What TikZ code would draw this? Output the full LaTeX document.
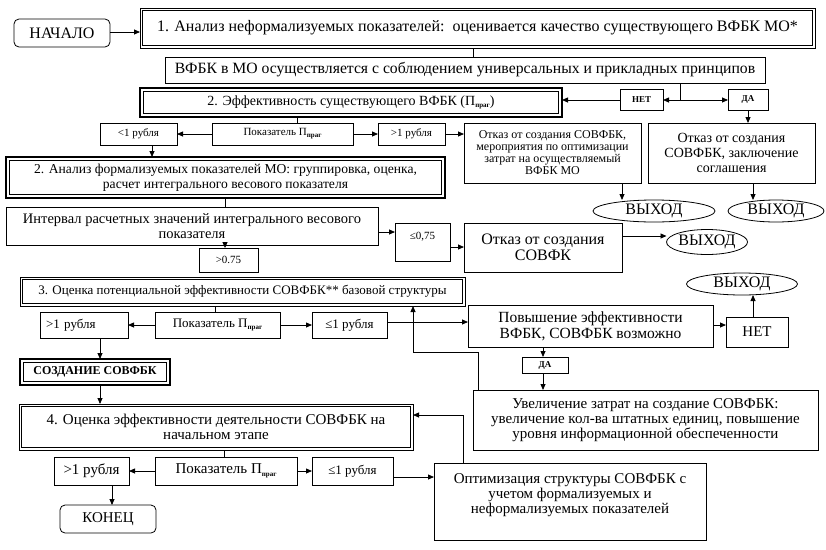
\documentclass[tikz,border=0pt]{standalone}
\usepackage{fontspec}
\setmainfont{Liberation Serif}
\usetikzlibrary{arrows.meta,shapes.geometric}
\newcommand\psub[1]{\raisebox{-0.35ex}{\fontsize{7}{7}\selectfont\bfseries #1}}
\begin{document}
\begin{tikzpicture}[x=1pt,y=-1pt,
  bx/.style={draw, line width=0.8pt, anchor=north west, align=center, inner sep=1pt, outer sep=0pt},
  rnd/.style={bx, rounded corners=5pt},
  dblthin/.style={bx, line width=0.7pt, path picture={\draw[line width=0.7pt] ([xshift=2.8pt,yshift=-2.8pt]path picture bounding box.north west) rectangle ([xshift=-2.8pt,yshift=2.8pt]path picture bounding box.south east);}},
  thk/.style={bx, line width=2.2pt, path picture={\draw[line width=0.7pt] ([xshift=3.6pt,yshift=-3.6pt]path picture bounding box.north west) rectangle ([xshift=-3.6pt,yshift=3.6pt]path picture bounding box.south east);}},
  ell/.style={draw, ellipse, line width=0.8pt, inner sep=0pt, outer sep=0pt},
  fL/.style={font=\fontsize{16}{16}\selectfont},
  fA/.style={font=\fontsize{15}{15}\selectfont},
  fB/.style={font=\fontsize{14}{15}\selectfont},
  fC/.style={font=\fontsize{13}{15}\selectfont},
  fD/.style={font=\fontsize{11}{11.5}\selectfont},
  fE/.style={font=\fontsize{9}{10}\selectfont\bfseries},
  con/.style={line width=0.8pt},
  arr/.style={con, -{Triangle[length=6pt,width=5pt]}}
]
\useasboundingbox (0,0) rectangle (826,549);
% nodes
\node[rnd, fL, minimum width=96pt, minimum height=28pt] (nach) at (14,19) {НАЧАЛО};
\node[dblthin, fL, minimum width=675pt, minimum height=40pt] (b1) at (140,8) {1. Анализ неформализуемых показателей:\ \ оценивается качество существующего ВФБК МО*};
\node[bx, font=\fontsize{15.7}{16}\selectfont, minimum width=600pt, minimum height=26pt] (b2) at (165,57) {ВФБК в МО осуществляется с соблюдением универсальных и прикладных принципов};
\node[thk, fB, minimum width=422pt, minimum height=29pt] (b3) at (140,88) {2. Эффективность существующего ВФБК (П\psub{праг})};
\node[bx, fE, minimum width=43pt, minimum height=21pt] (net1) at (620,89) {НЕТ};
\node[bx, fE, minimum width=40pt, minimum height=21pt] (da1) at (728,89) {ДА};
\node[bx, fD, minimum width=77pt, minimum height=22pt] (r1l) at (100,123) {<1 рубля};
\node[bx, fD, minimum width=141pt, minimum height=22pt] (r1m) at (212,123) {Показатель П\psub{праг}};
\node[bx, fD, minimum width=67pt, minimum height=22pt] (r1r) at (378,123) {>1 рубля};
\node[bx, font=\fontsize{12}{12}\selectfont, minimum width=177pt, minimum height=60pt] (otk1) at (464,123) {Отказ от создания СОВФБК,\\мероприятия по оптимизации\\затрат на осуществляемый\\ВФБК МО};
\node[bx, fB, minimum width=167pt, minimum height=60pt] (otk2) at (648,123) {Отказ от создания\\СОВФБК, заключение\\соглашения};
\node[thk, font=\fontsize{13.6}{15}\selectfont, minimum width=439pt, minimum height=41pt] (anal) at (6,157) {2. Анализ формализуемых показателей МО: группировка, оценка,\\расчет интегрального весового показателя};
\node[ell, fL, minimum width=122pt, minimum height=22pt] (e1) at (654,211) {ВЫХОД};
\node[ell, fL, minimum width=96pt, minimum height=22pt] (e2) at (776,211) {ВЫХОД};
\node[bx, font=\fontsize{14.5}{15}\selectfont, minimum width=372pt, minimum height=38pt] (int) at (6,207) {Интервал расчетных значений интегрального весового\\показателя};
\node[bx, fD, minimum width=55pt, minimum height=38pt] (le) at (395,223) {≤0,75\\\mbox{}};
\node[bx, fD, minimum width=59pt, minimum height=24pt] (gt) at (199,248) {>0.75};
\node[bx, fL, minimum width=158pt, minimum height=49pt] (otk3) at (464,223) {Отказ от создания\\СОВФК};
\node[ell, fL, minimum width=81pt, minimum height=25pt] (e3) at (707,242) {ВЫХОД};
\node[dblthin, fC, minimum width=445pt, minimum height=29pt] (b3o) at (20,277) {3. Оценка потенциальной эффективности СОВФБК** базовой структуры};
\node[bx, fC, minimum width=88pt, minimum height=26pt, align=left, text width=76pt] (r3l) at (40,312) {>1 рубля};
\node[bx, fC, minimum width=125pt, minimum height=26pt] (r3m) at (155,312) {Показатель П\psub{праг}};
\node[bx, fC, minimum width=75pt, minimum height=26pt] (r3r) at (312,312) {≤1 рубля};
\node[ell, fL, minimum width=111pt, minimum height=22pt] (e4) at (742,284) {ВЫХОД};
\node[bx, font=\fontsize{15.5}{16}\selectfont, minimum width=245pt, minimum height=42pt] (pov) at (468,305) {Повышение эффективности\\ВФБК, СОВФБК возможно};
\node[bx, fA, minimum width=62pt, minimum height=30pt] (net2) at (726,317) {НЕТ};
\node[thk, font=\fontsize{12}{12}\selectfont\bfseries, minimum width=150pt, minimum height=26pt] (soz) at (20,359) {СОЗДАНИЕ СОВФБК};
\node[bx, fE, minimum width=46pt, minimum height=16pt] (da2) at (522,357) {ДА};
\node[bx, fA, minimum width=345pt, minimum height=60pt] (uvel) at (473,390) {Увеличение затрат на создание СОВФБК:\\увеличение кол-ва штатных единиц, повышение\\уровня информационной обеспеченности};
\node[dblthin, fA, minimum width=394pt, minimum height=46pt] (b4) at (19,404) {4. Оценка эффективности деятельности СОВФБК на\\начальном этапе};
\node[bx, fA, minimum width=75pt, minimum height=28pt] (r4l) at (54,457) {>1 рубля};
\node[bx, fA, minimum width=142pt, minimum height=28pt] (r4m) at (155,457) {Показатель П\psub{праг}};
\node[bx, fC, minimum width=81pt, minimum height=28pt] (r4r) at (312,457) {≤1 рубля};
\node[bx, fA, minimum width=272pt, minimum height=77pt] (opt) at (434,463) {Оптимизация структуры СОВФБК с\\учетом формализуемых и\\неформализуемых показателей\\\mbox{}};
\node[rnd, fA, minimum width=96pt, minimum height=28pt] (konec) at (60,505) {КОНЕЦ};
% connectors
\draw[arr] (nach.east |- 0,32) -- (b1.west |- 0,32);
\draw[con] (b1.south -| 473,0) -- (b2.north -| 473,0);
\coordinate (j1) at (680,100);
\draw[con] (b2.south -| j1) -- (j1);
\draw[arr] (j1) -- (net1.east |- j1);
\draw[arr] (j1) -- (da1.west |- j1);
\draw[arr] (net1.west |- j1) -- (b3.east |- j1);
\draw[arr] (da1.south) -- (otk2.north -| da1.south);
\draw[con] (b3.south -| 297,0) -- (r1m.north -| 297,0);
\draw[arr] (r1m.west) -- (r1l.east);
\draw[arr] (r1m.east) -- (r1r.west);
\draw[arr] (r1r.east) -- (otk1.west |- r1r.east);
\draw[arr] (r1l.south -| 152,0) -- (anal.north -| 152,0);
\draw[con] (anal.south -| 225,0) -- (int.north -| 225,0);
\draw[arr] (int.south -| 225,0) -- (gt.north -| 225,0);
\draw[arr] (int.east |- 0,232) -- (le.west |- 0,232);
\draw[arr] (le.east |- 0,247) -- (otk3.west |- 0,247);
\draw[arr] (otk3.east |- 0,236) -- (e3.west |- 0,236);
\draw[arr] (otk1.south -| 622,0) -- (e1.north -| 622,0);
\draw[arr] (otk2.south -| 753,0) -- (e2.north -| 753,0);
\draw[con] (b3o.south -| 215,0) -- (r3m.north -| 215,0);
\draw[arr] (r3m.west) -- (r3l.east);
\draw[arr] (r3m.east) -- (r3r.west);
\draw[arr] (r3r.east |- 0,322) -- (pov.west |- 0,322);
\draw[arr] (pov.east |- 0,325) -- (net2.west |- 0,325);
\draw[arr] (net2.north -| 753,0) -- (e4.south -| 753,0);
\draw[arr] (pov.south -| 543,0) -- (da2.north -| 543,0);
\draw[arr] (da2.south -| 543,0) -- (uvel.north -| 543,0);
\draw[arr] (uvel.north -| 478,0) -- (478,352) -- (413,352) -- (b3o.south -| 413,0);
\draw[arr] (r3l.south -| 100,0) -- (soz.north -| 100,0);
\draw[arr] (soz.south -| 100,0) -- (b4.north -| 100,0);
\draw[arr] (opt.north -| 463,0) -- (463,415) -- (b4.east |- 0,415);
\draw[con] (b4.south -| 224,0) -- (r4m.north -| 224,0);
\draw[arr] (r4m.west) -- (r4l.east);
\draw[arr] (r4m.east) -- (r4r.west);
\draw[arr] (r4r.east |- 0,477) -- (opt.west |- 0,477);
\draw[arr] (r4l.south -| 112,0) -- (konec.north -| 112,0);
\end{tikzpicture}
\end{document}
